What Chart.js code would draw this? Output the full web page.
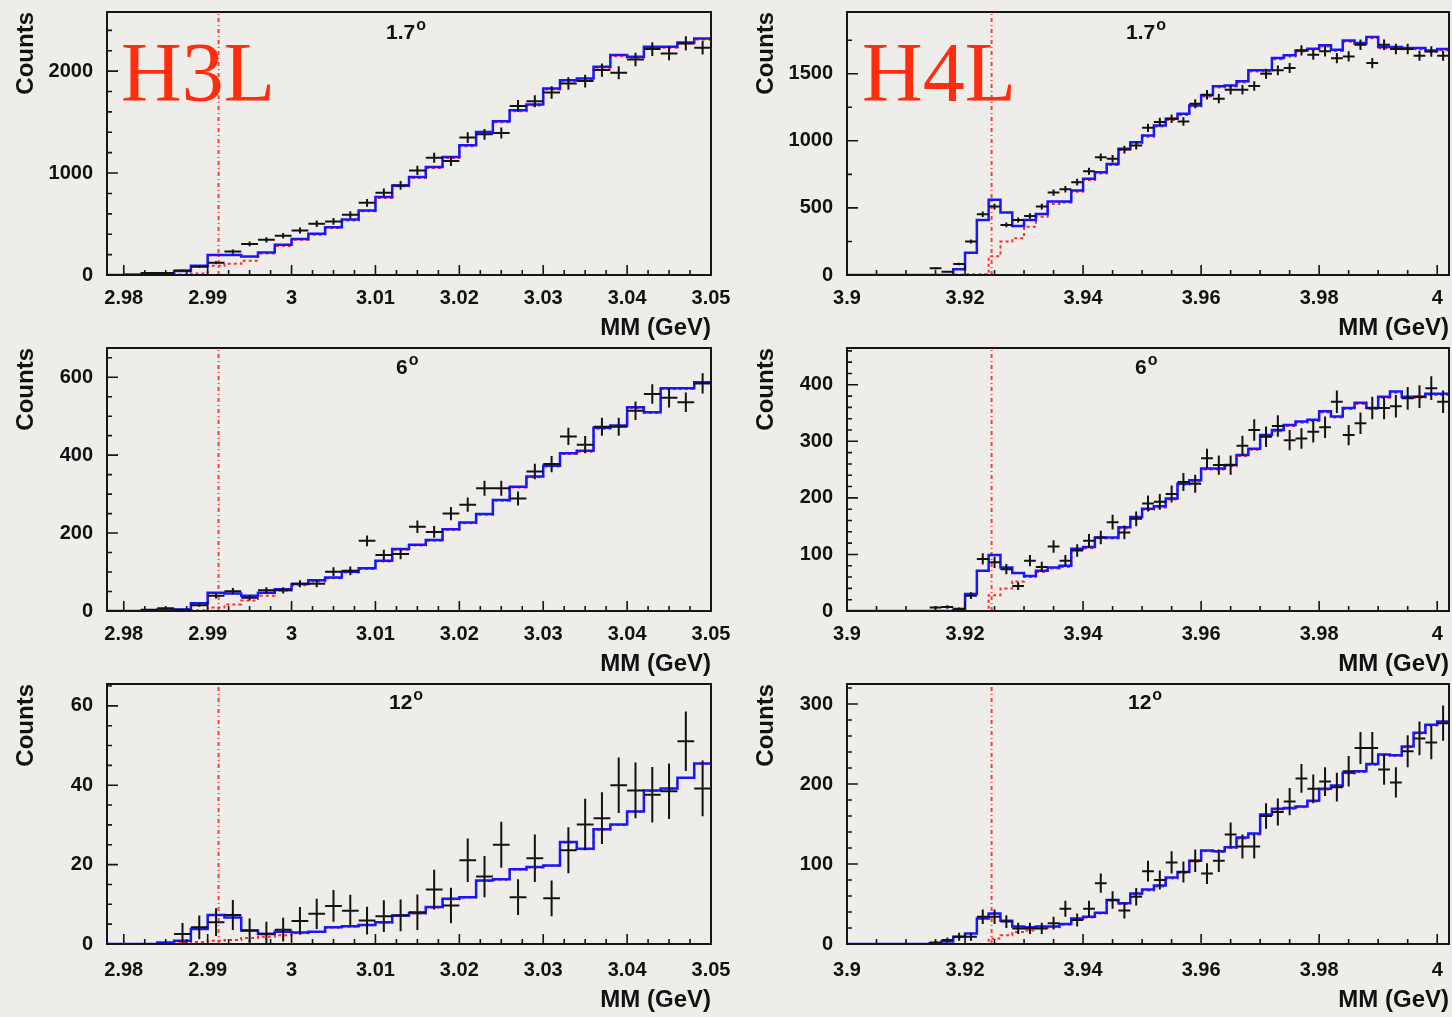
<!DOCTYPE html>
<html>
<head>
<meta charset="utf-8">
<script src="https://cdn.jsdelivr.net/npm/chart.js@4/dist/chart.umd.min.js"></script>
<style>
  body { margin: 0; width: 1452px; height: 1017px; overflow: hidden; position: relative; background: #efede9; }
  canvas { position: absolute; }
  .ang { position: absolute; font: bold 21px 'Liberation Sans', Arial, sans-serif; line-height: 1; color: #111; white-space: nowrap; }
  .ang span { font-size: 16px; position: relative; top: -9px; margin-left: 1px; }
  .nuc { position: absolute; font: 84px 'Liberation Serif', 'Times New Roman', serif; line-height: 1; color: #ff2d0d; }
</style>
</head>
<body>
<canvas id="c1" width="745" height="340" style="left:0;top:0"></canvas>
<canvas id="c2" width="712" height="340" style="left:740px;top:0"></canvas>
<canvas id="c3" width="745" height="340" style="left:0;top:336px"></canvas>
<canvas id="c4" width="712" height="340" style="left:740px;top:336px"></canvas>
<canvas id="c5" width="745" height="345" style="left:0;top:672px"></canvas>
<canvas id="c6" width="712" height="345" style="left:740px;top:672px"></canvas>

<div class="ang" style="left:386px;top:21px">1.7<span>o</span></div>
<div class="ang" style="left:1126px;top:21px">1.7<span>o</span></div>
<div class="ang" style="left:396px;top:356px">6<span>o</span></div>
<div class="ang" style="left:1135px;top:356px">6<span>o</span></div>
<div class="ang" style="left:389px;top:691px">12<span>o</span></div>
<div class="ang" style="left:1128px;top:691px">12<span>o</span></div>
<div class="nuc" style="left:121px;top:31px">H3L</div>
<div class="nuc" style="left:862px;top:31px">H4L</div>

<script>
// bin centres (GeV), 2 MeV bins
const massH3L = [2.979, 2.981, 2.983, 2.985, 2.987, 2.989, 2.991, 2.993, 2.995, 2.997,
  2.999, 3.001, 3.003, 3.005, 3.007, 3.009, 3.011, 3.013, 3.015, 3.017,
  3.019, 3.021, 3.023, 3.025, 3.027, 3.029, 3.031, 3.033, 3.035, 3.037,
  3.039, 3.041, 3.043, 3.045, 3.047, 3.049];
const massH4L = [3.901, 3.903, 3.905, 3.907, 3.909, 3.911, 3.913, 3.915, 3.917, 3.919,
  3.921, 3.923, 3.925, 3.927, 3.929, 3.931, 3.933, 3.935, 3.937, 3.939,
  3.941, 3.943, 3.945, 3.947, 3.949, 3.951, 3.953, 3.955, 3.957, 3.959,
  3.961, 3.963, 3.965, 3.967, 3.969, 3.971, 3.973, 3.975, 3.977, 3.979,
  3.981, 3.983, 3.985, 3.987, 3.989, 3.991, 3.993, 3.995, 3.997, 3.999, 4.001];

// thresholds (red dotted line)
const thrH3L = 2.9913;
const thrH4L = 3.9245;

// tick labels
const xTicksH3L = [2.98, 2.99, 3, 3.01, 3.02, 3.03, 3.04, 3.05];
const xTicksH4L = [3.9, 3.92, 3.94, 3.96, 3.98, 4];
const yTicksH3L17 = [0, 1000, 2000];
const yTicksH4L17 = [0, 500, 1000, 1500];
const yTicksH3L6 = [0, 200, 400, 600];
const yTicksH4L6 = [0, 100, 200, 300, 400];
const yTicksH3L12 = [0, 20, 40, 60];
const yTicksH4L12 = [0, 100, 200, 300];

// H3L 1.7 deg
const h3l17Data = [null, 5, 20, 20, 45, 80, 121, 230, 305, 345, 384, 436, 502, 525, 590, 708, 807, 879, 1026, 1151,
  1118, 1348, 1380, 1393, 1659, 1705, 1790, 1879, 1902, 2010, 1984, 2115, 2216, 2174, 2272, 2230];
const h3l17Err = [0, 3, 6, 6, 9, 12, 15, 21, 24, 26, 27, 29, 32, 33, 35, 38, 41, 42, 46, 49,
  48, 53, 53, 54, 58, 59, 61, 62, 63, 65, 64, 66, 68, 67, 69, 68];
const h3l17Fit = [0, 0, 3, 8, 40, 90, 197, 197, 181, 220, 296, 352, 404, 469, 544, 633, 764, 879, 961, 1059,
  1157, 1272, 1403, 1508, 1616, 1672, 1830, 1911, 1928, 2043, 2157, 2141, 2239, 2239, 2282, 2321];
const h3l17Bkg = [0, 0, 0, 0, 5, 15, 90, 110, 140, 210, 285, 345, 395, 460, 535, 625, 755, 870, 952, 1050,
  1148, 1262, 1393, 1498, 1606, 1662, 1820, 1901, 1918, 2033, 2147, 2131, 2229, 2229, 2272, 2311];

// H4L 1.7 deg
const h4l17Data = [null, null, null, null, null, null, null, 50, 25, 82, 249, 453, 510, 373, 410, 440, 510, 614, 639, 692,
  774, 878, 866, 935, 965, 1097, 1140, 1164, 1144, 1276, 1343, 1314, 1381, 1381, 1408, 1500, 1525, 1543, 1674, 1642,
  1667, 1616, 1629, 1716, 1579, 1716, 1684, 1684, 1634, 1666, 1634];
const h4l17Err = [0, 0, 0, 0, 0, 0, 0, 7, 5, 9, 15, 20, 21, 18, 19, 20, 21, 23, 24, 25,
  26, 28, 28, 29, 29, 31, 32, 32, 32, 34, 35, 34, 35, 35, 35, 37, 37, 37, 39, 38,
  39, 38, 38, 39, 38, 39, 39, 39, 38, 39, 38];
const h4l17Fit = [0, 0, 0, 0, 0, 0, 0, 0, 0, 42, 166, 410, 560, 465, 366, 410, 455, 547, 547, 629,
  717, 766, 828, 940, 990, 1040, 1115, 1164, 1202, 1264, 1339, 1406, 1413, 1443, 1525, 1525, 1617, 1637, 1674, 1687,
  1712, 1679, 1748, 1729, 1773, 1699, 1699, 1691, 1691, 1673, 1684];
const h4l17Bkg = [0, 0, 0, 0, 0, 0, 0, 0, 0, 3, 5, 5, 140, 249, 274, 360, 435, 530, 540, 620,
  708, 757, 819, 931, 981, 1031, 1106, 1155, 1193, 1255, 1330, 1397, 1404, 1434, 1516, 1516, 1608, 1628, 1665, 1678,
  1703, 1670, 1739, 1720, 1764, 1690, 1690, 1682, 1682, 1664, 1675];

// H3L 6 deg
const h3l6Data = [null, null, 3, 7, 3, 15, 39, 51, 34, 53, 53, 70, 70, 101, 103, 180, 144, 146, 216, 203,
  250, 273, 315, 315, 289, 358, 377, 448, 427, 473, 473, 514, 557, 547, 536, 584];
const h3l6Err = [0, 0, 2, 3, 2, 4, 7, 8, 7, 8, 8, 9, 9, 11, 11, 14, 13, 13, 16, 15,
  17, 18, 19, 19, 18, 20, 21, 22, 22, 23, 23, 24, 25, 25, 25, 26];
const h3l6Fit = [0, 0, 0, 3, 4, 20, 47, 45, 39, 47, 56, 69, 79, 86, 101, 110, 129, 159, 170, 182,
  210, 227, 249, 285, 319, 345, 373, 405, 411, 470, 476, 523, 510, 572, 572, 587];
const h3l6Bkg = [0, 0, 0, 0, 0, 2, 9, 17, 27, 39, 52, 66, 76, 84, 99, 108, 127, 157, 168, 180,
  208, 225, 247, 283, 317, 343, 371, 403, 409, 468, 474, 521, 508, 570, 570, 585];

// H4L 6 deg
const h4l6Data = [null, null, null, null, null, null, null, 6, 7, 4, 27, 92, 86, 74, 44, 89, 78, 114, 89, 107,
  124, 130, 157, 139, 163, 190, 193, 207, 228, 225, 270, 258, 258, 292, 320, 308, 327, 302, 305, 317,
  325, 370, 311, 332, 359, 359, 362, 376, 379, 394, 370];
const h4l6Err = [0, 0, 0, 0, 0, 0, 0, 3, 3, 2, 6, 10, 10, 9, 7, 10, 9, 11, 10, 11,
  12, 12, 13, 12, 13, 14, 14, 15, 16, 16, 17, 17, 17, 18, 19, 18, 19, 18, 18, 19,
  19, 20, 18, 19, 20, 20, 20, 20, 20, 21, 20];
const h4l6Fit = [0, 0, 0, 0, 0, 0, 0, 0, 0, 2, 30, 71, 99, 77, 67, 62, 71, 77, 80, 110,
  113, 130, 130, 148, 166, 181, 185, 199, 225, 231, 252, 252, 258, 276, 287, 311, 320, 329, 335, 338,
  353, 344, 359, 368, 359, 379, 388, 379, 379, 384, 384];
const h4l6Bkg = [0, 0, 0, 0, 0, 0, 0, 0, 0, 0, 0, 0, 28, 40, 52, 60, 69, 75, 78, 108,
  111, 128, 128, 146, 164, 179, 183, 197, 223, 229, 250, 250, 256, 274, 285, 309, 318, 327, 333, 336,
  351, 342, 357, 366, 357, 377, 386, 377, 377, 382, 382];

// H3L 12 deg
const h3l12Data = [null, null, null, null, 2.5, 4.2, 5.5, 7.3, 3.4, 2.6, 3.6, 5.8, 7.6, 9.6, 8.4, 5.9, 7.0, 7.2, 8.0, 13.7,
  9.7, 21.1, 17.0, 25.0, 11.8, 21.6, 11.5, 23.6, 30.1, 31.7, 40.0, 38.7, 37.6, 38.5, 51.1, 39.2];
const h3l12Err = [0, 0, 0, 0, 2.8, 3.0, 3.5, 3.8, 3.0, 3.0, 3.0, 3.5, 3.8, 4.0, 4.0, 3.5, 4.0, 4.0, 4.5, 5.0,
  4.5, 5.5, 5.2, 5.8, 4.5, 6.0, 4.5, 5.8, 6.5, 6.5, 7.0, 7.0, 7.0, 7.0, 7.5, 7.0];
const h3l12Fit = [0, 0, 0, 0.4, 0.8, 3.8, 7.3, 6.7, 3.4, 2.5, 3.1, 2.9, 3.1, 4.2, 4.5, 4.8, 5.5, 7.2, 7.8, 9.3,
  11.4, 11.8, 16.0, 16.3, 18.8, 19.4, 19.8, 25.7, 24.0, 28.9, 30.1, 33.4, 38.7, 39.2, 41.9, 45.5];
const h3l12Bkg = [0, 0, 0, 0, 0.3, 0.5, 0.8, 1.0, 1.5, 1.8, 2.2, 2.7, 3.0, 4.1, 4.4, 4.7, 5.4, 7.1, 7.7, 9.2,
  11.3, 11.7, 15.9, 16.2, 18.7, 19.3, 19.7, 25.6, 23.9, 28.8, 30.0, 33.3, 38.6, 39.1, 41.8, 45.4];

// H4L 12 deg
const h4l12Data = [null, null, null, null, null, null, null, 2, 5, 9, 9, 34, 34, 28, 19.5, 19.5, 19.5, 26, 44, 30,
  44, 76, 55, 42, 59, 91, 80, 102, 90, 104, 88, 104, 137, 122, 122, 160, 165, 178, 207, 194,
  203, 196, 216, 245, 245, 218, 202, 241, 257, 252, 276];
const h4l12Err = [0, 0, 0, 0, 0, 0, 0, 2, 3, 5, 5, 9, 9, 8, 7, 7, 7, 8, 10, 8,
  10, 12, 11, 10, 11, 13, 12, 14, 13, 14, 13, 14, 15, 15, 15, 16, 17, 17, 18, 18,
  18, 18, 19, 20, 20, 19, 19, 20, 21, 21, 22];
const h4l12Fit = [0, 0, 0, 0, 0, 0, 0, 1, 3, 9, 13, 32, 38, 29, 22, 21, 22, 22, 25, 32,
  34, 39, 55, 51, 63, 68, 73, 83, 90, 104, 117, 116, 121, 133, 138, 162, 169, 170, 172, 179,
  194, 198, 214, 216, 225, 237, 236, 247, 264, 274, 278];
const h4l12Bkg = [0, 0, 0, 0, 0, 0, 0, 0, 0, 0, 0, 0, 7, 11, 15, 17, 20, 21, 24, 31,
  33, 38, 54, 50, 62, 67, 72, 82, 89, 103, 116, 115, 120, 132, 137, 161, 168, 169, 171, 178,
  193, 197, 213, 215, 224, 236, 235, 246, 263, 273, 277];

const binHalf = 0.001;
const tickFont = { family: "'Liberation Sans', Arial, sans-serif", size: 20, weight: 'bold' };
const titleFont = { family: "'Liberation Sans', Arial, sans-serif", size: 24, weight: 'bold', lineHeight: 1 };

// histogram drawn as steps from bin edges
function histPoints(centers, values) {
  const pts = centers.map((c, i) => ({ x: c - binHalf, y: values[i] }));
  pts.push({ x: centers[centers.length - 1] + binHalf, y: values[values.length - 1] });
  return pts;
}

// data crosses: horizontal bin-width bar + vertical error bar
function errBars(centers, values, errs) {
  const h = [], v = [];
  centers.forEach((c, i) => {
    if (values[i] === null) return;
    h.push({ x: c - binHalf, y: values[i] }, { x: c + binHalf, y: values[i] }, { x: c, y: null });
    v.push({ x: c, y: values[i] - errs[i] }, { x: c, y: values[i] + errs[i] }, { x: c, y: null });
  });
  return { h, v };
}

// ROOT style frame with inward ticks
const rootFrame = {
  id: 'rootFrame',
  afterDatasetsDraw(chart, args, o) {
    const { ctx, chartArea: a } = chart;
    const x = chart.scales.x, y = chart.scales.y;
    ctx.save();
    ctx.strokeStyle = '#151515';
    ctx.lineWidth = 1.6;
    ctx.beginPath();
    for (let k = Math.ceil(x.min / o.xMinor - 1e-6); k * o.xMinor <= x.max + 1e-9; k++) {
      const px = x.getPixelForValue(k * o.xMinor);
      const len = k % o.xEvery === 0 ? 10 : 5;
      ctx.moveTo(px, a.bottom);
      ctx.lineTo(px, a.bottom - len);
    }
    for (let k = 0; k * o.yMinor <= y.max; k++) {
      const py = y.getPixelForValue(k * o.yMinor);
      const len = k % o.yEvery === 0 ? 11 : 5;
      ctx.moveTo(a.left, py);
      ctx.lineTo(a.left + len, py);
    }
    ctx.stroke();
    ctx.lineWidth = 2;
    ctx.strokeRect(a.left, a.top, a.right - a.left, a.bottom - a.top);
    ctx.restore();
  }
};

function panel(id, o) {
  const eb = errBars(o.mass, o.data, o.err);
  new Chart(document.getElementById(id), {
    type: 'line',
    data: {
      datasets: [
        { data: eb.h, borderColor: '#121212', borderWidth: 2, order: 1 },
        { data: eb.v, borderColor: '#121212', borderWidth: 2, order: 1 },
        { data: histPoints(o.mass, o.fit), borderColor: '#1717ff', borderWidth: 2.5, stepped: true, order: 2 },
        { data: histPoints(o.mass, o.bkg), borderColor: '#ff2b2b', borderWidth: 2, borderDash: [3, 3], stepped: true, order: 3 },
        { data: [{ x: o.thr, y: 0 }, { x: o.thr, y: o.yMax }], borderColor: '#ff3c3c', borderWidth: 2, borderDash: [4, 3, 1, 3], order: 4 }
      ]
    },
    options: {
      responsive: false,
      animation: false,
      devicePixelRatio: 1,
      events: [],
      spanGaps: false,
      layout: { padding: { top: 12, right: o.padRight, left: 0, bottom: 0 } },
      elements: { point: { radius: 0, hoverRadius: 0 }, line: { tension: 0, fill: false } },
      plugins: {
        legend: { display: false },
        tooltip: { enabled: false },
        rootFrame: { xMinor: o.xMinor, xEvery: o.xEvery, yMinor: o.yMinor, yEvery: o.yEvery }
      },
      scales: {
        x: {
          type: 'linear', min: o.xMin, max: o.xMax,
          grid: { display: false, drawTicks: false }, border: { display: false },
          afterBuildTicks: s => { s.ticks = o.xTicks.map(v => ({ value: v })); },
          afterFit: s => { s.height = o.xHeight; s.paddingLeft = 0; s.paddingRight = 0; },
          ticks: { autoSkip: false, maxRotation: 0, padding: o.xTickPad, color: '#111', font: tickFont, callback: v => String(v) },
          title: { display: true, text: 'MM (GeV)', align: 'end', color: '#111', font: titleFont, padding: { top: 0, bottom: o.titlePad } }
        },
        y: {
          type: 'linear', min: 0, max: o.yMax,
          grid: { display: false, drawTicks: false }, border: { display: false },
          afterBuildTicks: s => { s.ticks = o.yTicks.map(v => ({ value: v })); },
          afterFit: s => { s.width = 107; s.paddingTop = 0; s.paddingBottom = 0; },
          ticks: { autoSkip: false, padding: 14, color: '#111', font: tickFont, callback: v => String(v) },
          title: { display: true, text: 'Counts', align: 'end', color: '#111', font: titleFont, padding: { top: 14, bottom: 0 } }
        }
      }
    },
    plugins: [rootFrame]
  });
}

const leftAxis = { xMin: 2.978, xMax: 3.05, xTicks: xTicksH3L, thr: thrH3L, padRight: 34, xMinor: 0.0025, xEvery: 4 };
const rightAxis = { xMin: 3.9, xMax: 4.002, xTicks: xTicksH4L, thr: thrH4L, padRight: 3, xMinor: 0.005, xEvery: 4 };

panel('c1', Object.assign({}, leftAxis, { mass: massH3L, data: h3l17Data, err: h3l17Err, fit: h3l17Fit, bkg: h3l17Bkg,
  yMax: 2580, yTicks: yTicksH3L17, yMinor: 200, yEvery: 5, xHeight: 65, titlePad: 0, xTickPad: 11 }));
panel('c2', Object.assign({}, rightAxis, { mass: massH4L, data: h4l17Data, err: h4l17Err, fit: h4l17Fit, bkg: h4l17Bkg,
  yMax: 1960, yTicks: yTicksH4L17, yMinor: 250, yEvery: 2, xHeight: 65, titlePad: 0, xTickPad: 11 }));
panel('c3', Object.assign({}, leftAxis, { mass: massH3L, data: h3l6Data, err: h3l6Err, fit: h3l6Fit, bkg: h3l6Bkg,
  yMax: 675, yTicks: yTicksH3L6, yMinor: 50, yEvery: 4, xHeight: 65, titlePad: 0, xTickPad: 11 }));
panel('c4', Object.assign({}, rightAxis, { mass: massH4L, data: h4l6Data, err: h4l6Err, fit: h4l6Fit, bkg: h4l6Bkg,
  yMax: 465, yTicks: yTicksH4L6, yMinor: 20, yEvery: 5, xHeight: 65, titlePad: 0, xTickPad: 11 }));
panel('c5', Object.assign({}, leftAxis, { mass: massH3L, data: h3l12Data, err: h3l12Err, fit: h3l12Fit, bkg: h3l12Bkg,
  yMax: 65.5, yTicks: yTicksH3L12, yMinor: 5, yEvery: 4, xHeight: 73, titlePad: 5, xTickPad: 14 }));
panel('c6', Object.assign({}, rightAxis, { mass: massH4L, data: h4l12Data, err: h4l12Err, fit: h4l12Fit, bkg: h4l12Bkg,
  yMax: 325, yTicks: yTicksH4L12, yMinor: 20, yEvery: 5, xHeight: 73, titlePad: 5, xTickPad: 14 }));
</script>
</body>
</html>
